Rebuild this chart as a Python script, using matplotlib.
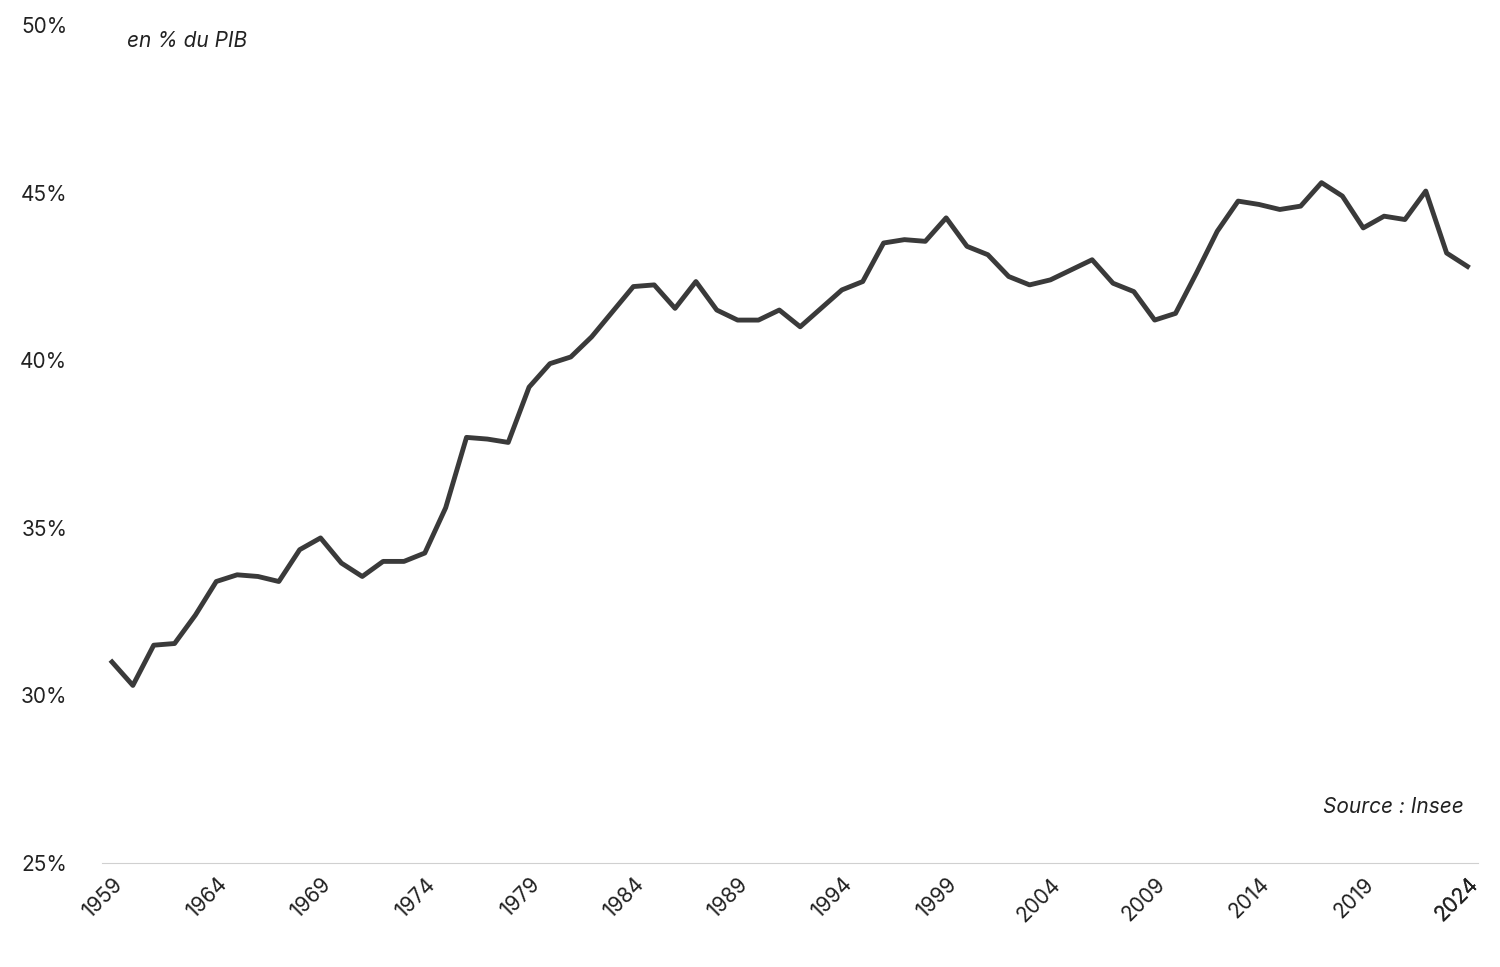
import matplotlib
matplotlib.use("Agg")
import matplotlib.pyplot as plt
from matplotlib.ticker import FuncFormatter

years = list(range(1959, 2025))
values = [31.0, 30.3, 31.5, 31.55, 32.4, 33.4, 33.6, 33.55, 33.4, 34.35,
          34.7, 33.95, 33.55, 34.0, 34.0, 34.25, 35.6, 37.7, 37.65, 37.55,
          39.2, 39.9, 40.1, 40.7, 41.45, 42.2, 42.25, 41.55, 42.35, 41.5,
          41.2, 41.2, 41.5, 41.0, 41.55, 42.1, 42.35, 43.5, 43.6, 43.55,
          44.25, 43.4, 43.15, 42.5, 42.25, 42.4, 42.7, 43.0, 42.3, 42.05,
          41.2, 41.4, 42.6, 43.85, 44.75, 44.65, 44.5, 44.6, 45.3, 44.9,
          43.95, 44.3, 44.2, 45.05, 43.2, 42.8]
xticks = list(range(1959, 2025, 5)) + [2024]
yticks = [25, 30, 35, 40, 45, 50]

plt.rcParams['font.family'] = ['Inter', 'DejaVu Sans']
fig = plt.figure(figsize=(15, 9.67), dpi=100)
ax = fig.add_axes([0.068, 0.1075, 0.917, 0.8665])
ax.plot(years, values, color='#3a3a3a', lw=3.5, solid_joinstyle='round')
ax.set_xlim(1958.52, 2024.48)
ax.set_ylim(25, 50)
ax.set_yticks(yticks)
ax.yaxis.set_major_formatter(FuncFormatter(lambda v, p: f"{v:.0f}%"))
ax.set_xticks(xticks)
ax.set_xticklabels([str(x) for x in xticks], rotation=45, ha='right', rotation_mode='anchor')
for s in ['top', 'right', 'left']:
    ax.spines[s].set_visible(False)
ax.spines['bottom'].set_color('#d0d0d0')
ax.tick_params(axis='both', length=0, labelsize=15, colors='#222222')
ax.tick_params(axis='y', pad=25)
ax.tick_params(axis='x', pad=8)
ax.text(0.018, 0.993, 'en % du PIB', transform=ax.transAxes, style='italic', fontsize=15, va='top', ha='left', color='#222222')
ax.text(0.99, 0.055, 'Source : Insee', transform=ax.transAxes, style='italic', fontsize=15, va='bottom', ha='right', color='#222222')
fig.savefig('out.png', dpi=100)
